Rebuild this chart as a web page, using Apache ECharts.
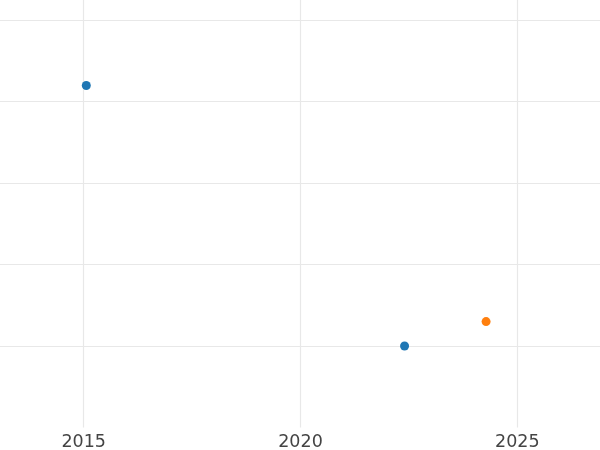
<!DOCTYPE html>
<html>
<head>
<meta charset="utf-8">
<script src="https://cdn.jsdelivr.net/npm/echarts@6/dist/echarts.min.js"></script>
<style>html,body{margin:0;padding:0;background:#fff}#c{width:600px;height:450px}</style>
</head>
<body>
<div id="c"></div>
<script>
// Data
const seriesA = [[2015.06, 3.2], [2022.40, 0.0]];   // blue
const seriesB = [[2024.28, 0.3]];                   // orange
const xTicks = [2015, 2020, 2025];

const chart = echarts.init(document.getElementById('c'), null, {renderer: 'canvas'});
chart.setOption({
  animation: false,
  backgroundColor: '#ffffff',
  grid: {left: -133.1, right: -134.1, top: -61.1, bottom: 22.6, containLabel: false, outerBoundsMode: 'none'},
  xAxis: {
    type: 'value', min: 2010, max: 2030, interval: 5,
    axisLine: {show: false}, axisTick: {show: false},
    axisLabel: {
      margin: 6, color: '#444444', fontSize: 17.5, fontFamily: 'DejaVu Sans',
      formatter: v => xTicks.includes(v) ? String(v) : ''
    },
    splitLine: {show: true, lineStyle: {color: '#e8e8e8', width: 1.2}}
  },
  yAxis: {
    type: 'value', min: -1, max: 5, interval: 1,
    axisLine: {show: false}, axisTick: {show: false}, axisLabel: {show: false},
    splitLine: {show: true, lineStyle: {color: ['rgba(0,0,0,0)', '#e8e8e8', '#e8e8e8', '#e8e8e8', '#e8e8e8', '#e8e8e8', '#e8e8e8'], width: 1.2}}
  },
  series: [
    {type: 'scatter', data: seriesA, symbolSize: 9, itemStyle: {color: '#1f77b4', opacity: 1}},
    {type: 'scatter', data: seriesB, symbolSize: 9, itemStyle: {color: '#ff7f0e', opacity: 1}}
  ]
});
</script>
</body>
</html>
